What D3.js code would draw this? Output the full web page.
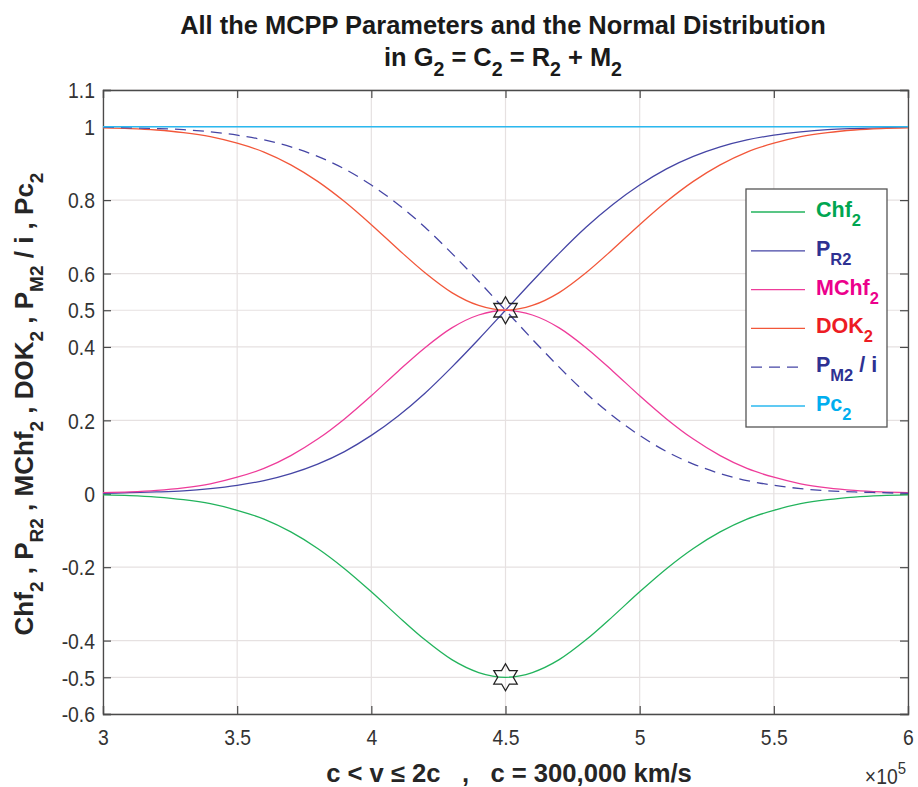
<!DOCTYPE html>
<html>
<head>
<meta charset="utf-8">
<script src="https://cdn.jsdelivr.net/npm/d3@7"></script>
<style>
    body { margin: 0; background: #fff; }
    text { font-family: "Liberation Sans", Arial, Helvetica, sans-serif; }
</style>
</head>
<body>
<div id="chart"></div>
<script>
// velocity v in units of 10^5 km/s
let xVals = [3.0, 3.1, 3.2, 3.3, 3.4, 3.5, 3.6, 3.7, 3.8, 3.9, 4.0, 4.1, 4.2, 4.3, 4.4, 4.5,
    4.6, 4.7, 4.8, 4.9, 5.0, 5.1, 5.2, 5.3, 5.4, 5.5, 5.6, 5.7, 5.8, 5.9, 6.0];

// series
let chf = [-0.003, -0.005, -0.009, -0.016, -0.027, -0.045, -0.069, -0.104, -0.149, -0.204, -0.267, -0.334, -0.398, -0.452, -0.487, -0.500,
    -0.487, -0.452, -0.398, -0.334, -0.267, -0.204, -0.149, -0.104, -0.069, -0.045, -0.027, -0.016, -0.009, -0.005, -0.003];
let pr = [0.001, 0.003, 0.005, 0.008, 0.014, 0.023, 0.036, 0.055, 0.081, 0.115, 0.159, 0.212, 0.274, 0.345, 0.421, 0.500,
    0.579, 0.655, 0.726, 0.788, 0.841, 0.885, 0.919, 0.945, 0.964, 0.977, 0.986, 0.992, 0.995, 0.997, 0.999];
let mchf = [0.003, 0.005, 0.009, 0.016, 0.027, 0.045, 0.069, 0.104, 0.149, 0.204, 0.267, 0.334, 0.398, 0.452, 0.487, 0.500,
    0.487, 0.452, 0.398, 0.334, 0.267, 0.204, 0.149, 0.104, 0.069, 0.045, 0.027, 0.016, 0.009, 0.005, 0.003];
let dok = [0.997, 0.995, 0.991, 0.984, 0.973, 0.955, 0.931, 0.896, 0.851, 0.796, 0.733, 0.666, 0.602, 0.548, 0.513, 0.500,
    0.513, 0.548, 0.602, 0.666, 0.733, 0.796, 0.851, 0.896, 0.931, 0.955, 0.973, 0.984, 0.991, 0.995, 0.997];
let pm = [0.999, 0.997, 0.995, 0.992, 0.986, 0.977, 0.964, 0.945, 0.919, 0.885, 0.841, 0.788, 0.726, 0.655, 0.579, 0.500,
    0.421, 0.345, 0.274, 0.212, 0.159, 0.115, 0.081, 0.055, 0.036, 0.023, 0.014, 0.008, 0.005, 0.003, 0.001];
let pc = [1, 1, 1, 1, 1, 1, 1, 1, 1, 1, 1, 1, 1, 1, 1, 1,
    1, 1, 1, 1, 1, 1, 1, 1, 1, 1, 1, 1, 1, 1, 1];

// star markers at the mean
let starX = [4.5, 4.5];
let starY = [0.5, -0.5];

// tick labels
let xTicks = [3, 3.5, 4, 4.5, 5, 5.5, 6];
let yTicks = [-0.6, -0.5, -0.4, -0.2, 0, 0.2, 0.4, 0.5, 0.6, 0.8, 1, 1.1];

// legend: name, subscript, tail
let legendNames = ["Chf", "P", "MChf", "DOK", "P", "Pc"];
let legendSubs = ["2", "R2", "2", "2", "M2", "2"];
let legendTails = ["", "", "", "", " / i", ""];

let svgWidth = 918;
let svgHeight = 787;

let margin = { top: 90, right: 10, bottom: 73, left: 103 };
let width = svgWidth - margin.left - margin.right;
let height = svgHeight - margin.top - margin.bottom;

let svg = d3.select('#chart')
    .append('svg')
    .attr('width', svgWidth)
    .attr('height', svgHeight);

let chartGroup = svg.append('g')
    .attr('transform', `translate(${margin.left}, ${margin.top})`);

let xScale = d3.scaleLinear().domain([3, 6]).range([0, width]);
let yScale = d3.scaleLinear().domain([-0.6, 1.1]).range([height, 0]);

// narrow look: squeeze arial horizontally
let squeeze = 0.88;

// grid
chartGroup.append('g')
    .selectAll('line')
    .data(xTicks)
    .enter()
    .append('line')
    .attr('x1', d => xScale(d)).attr('x2', d => xScale(d))
    .attr('y1', 0).attr('y2', height)
    .attr('stroke', '#e6e1e1').attr('stroke-width', 1.2);

chartGroup.append('g')
    .selectAll('line')
    .data(yTicks)
    .enter()
    .append('line')
    .attr('x1', 0).attr('x2', width)
    .attr('y1', d => yScale(d)).attr('y2', d => yScale(d))
    .attr('stroke', '#e6e1e1').attr('stroke-width', 1.2);

// axes, ticks inside like matlab, box on
let tickLen = 8;
let fmt = d => String(d);

let bottomAxis = chartGroup.append('g')
    .attr('transform', `translate(0,${height})`)
    .call(d3.axisBottom(xScale).tickValues(xTicks).tickSize(-tickLen).tickPadding(15).tickFormat(fmt));
let topAxis = chartGroup.append('g')
    .call(d3.axisTop(xScale).tickValues(xTicks).tickSize(-tickLen).tickFormat(''));
let leftAxis = chartGroup.append('g')
    .call(d3.axisLeft(yScale).tickValues(yTicks).tickSize(-tickLen).tickFormat(fmt));
let rightAxis = chartGroup.append('g')
    .attr('transform', `translate(${width},0)`)
    .call(d3.axisRight(yScale).tickValues(yTicks).tickSize(-tickLen).tickFormat(''));

[bottomAxis, topAxis, leftAxis, rightAxis].forEach(a => {
    a.select('.domain').attr('stroke', '#4a4a4a').attr('stroke-width', 1.3);
    a.selectAll('.tick line').attr('stroke', '#4a4a4a').attr('stroke-width', 1.2);
    a.selectAll('.tick text')
        .attr('font-family', '"Liberation Sans", Arial, sans-serif')
        .attr('font-size', 22)
        .attr('fill', '#333');
});
bottomAxis.selectAll('.tick text').attr('transform', `scale(${squeeze},1)`);
leftAxis.selectAll('.tick text')
    .attr('x', null)
    .attr('dy', '0.35em')
    .attr('transform', `translate(-8,0) scale(${squeeze},1)`);

// curves
let line = d3.line()
    .x((d, i) => xScale(xVals[i]))
    .y(d => yScale(d))
    .curve(d3.curveMonotoneX);

let series = [
    { vals: chf, color: '#22b35c', dash: null, w: 1.3 },
    { vals: pr, color: '#4545a5', dash: null, w: 1.3 },
    { vals: mchf, color: '#ee3c9a', dash: null, w: 1.3 },
    { vals: dok, color: '#f2573a', dash: null, w: 1.3 },
    { vals: pm, color: '#4545a5', dash: '11,7', w: 1.3 },
    { vals: pc, color: '#2bb8ef', dash: null, w: 1.6 }
];

chartGroup.selectAll('.curve')
    .data(series)
    .enter()
    .append('path')
    .attr('class', 'curve')
    .attr('d', d => line(d.vals))
    .attr('fill', 'none')
    .attr('stroke', d => d.color)
    .attr('stroke-width', d => d.w)
    .attr('stroke-dasharray', d => d.dash);

// hexagram markers
function hexagram(r) {
    let pts = [];
    for (let k = 0; k < 12; k++) {
        let a = -Math.PI / 2 + k * Math.PI / 6;
        let rr = k % 2 === 0 ? r : r / Math.sqrt(3);
        pts.push([rr * Math.cos(a), rr * Math.sin(a)]);
    }
    return 'M' + pts.map(p => p.join(',')).join('L') + 'Z';
}

chartGroup.selectAll('.star')
    .data(starX)
    .enter()
    .append('path')
    .attr('class', 'star')
    .attr('transform', (d, i) => `translate(${xScale(d)},${yScale(starY[i])})`)
    .attr('d', hexagram(13.5))
    .attr('fill', 'none')
    .attr('stroke', '#222')
    .attr('stroke-width', 1.3);

// legend
let legendColors = ['#00a651', '#2e3192', '#ec008c', '#ed1c24', '#2e3192', '#00aeef'];
let legend = svg.append('g').attr('transform', 'translate(746,189)');
legend.append('rect')
    .attr('width', 141).attr('height', 238)
    .attr('fill', '#fff')
    .attr('stroke', '#555').attr('stroke-width', 1.3);

legendNames.forEach((name, i) => {
    let y = 23 + i * 38.8;
    let s = series[i];
    legend.append('line')
        .attr('x1', 5).attr('x2', 59)
        .attr('y1', y).attr('y2', y)
        .attr('stroke', s.color)
        .attr('stroke-width', 1.3)
        .attr('stroke-dasharray', s.dash);
    let t = legend.append('text')
        .attr('x', 70).attr('y', y + 5)
        .attr('font-size', 21.5)
        .attr('font-weight', 'bold')
        .attr('fill', legendColors[i])
        .attr('xml:space', 'preserve');
    t.append('tspan').text(name);
    t.append('tspan').attr('dy', 9).attr('font-size', 16.5).text(legendSubs[i]);
    if (legendTails[i]) t.append('tspan').attr('dy', -9).text(legendTails[i]);
});

// text made of pieces, subscripts go down then back up
function piecewise(el, parts, subSize, drop) {
    parts.forEach(p => {
        el.append('tspan').attr('dy', p.sub ? drop : (p.back ? -drop : 0))
            .attr('font-size', p.sub ? subSize : null)
            .text(p.t);
    });
}

// title
let title1 = svg.append('text')
    .attr('text-anchor', 'middle')
    .attr('font-weight', 'bold')
    .attr('font-size', 26)
    .attr('fill', '#1a1a1a')
    .text('All the MCPP Parameters and the Normal Distribution');
let w1 = title1.node().getComputedTextLength();
let titleScale = 646 / w1;
title1.attr('transform', `translate(503,34) scale(${titleScale},1)`);

let title2 = svg.append('text')
    .attr('text-anchor', 'middle')
    .attr('font-weight', 'bold')
    .attr('font-size', 26)
    .attr('fill', '#1a1a1a')
    .attr('xml:space', 'preserve')
    .attr('transform', `translate(503,66) scale(${titleScale},1)`);
piecewise(title2, [
    { t: 'in G' }, { t: '2', sub: true }, { t: ' = C', back: true }, { t: '2', sub: true },
    { t: ' = R', back: true }, { t: '2', sub: true }, { t: ' + M', back: true }, { t: '2', sub: true }
], 20, 10);

// x label
let xlab = svg.append('text')
    .attr('text-anchor', 'middle')
    .attr('font-weight', 'bold')
    .attr('font-size', 25)
    .attr('fill', '#262626')
    .attr('xml:space', 'preserve')
    .text('c < v \u2264 2c   ,   c = 300,000 km/s');
let wx = xlab.node().getComputedTextLength();
xlab.attr('transform', `translate(509,782) scale(${366 / wx},1)`);

// exponent
let expo = svg.append('text')
    .attr('text-anchor', 'end')
    .attr('font-size', 22)
    .attr('fill', '#333')
    .attr('transform', `translate(906,784) scale(${squeeze},1)`);
expo.append('tspan').text('\u00d710');
expo.append('tspan').attr('dy', -10).attr('font-size', 17).text('5');

// y label
let ylab = svg.append('text')
    .attr('text-anchor', 'middle')
    .attr('transform', 'translate(33,404) rotate(-90)')
    .attr('font-weight', 'bold')
    .attr('font-size', 26)
    .attr('fill', '#262626')
    .attr('xml:space', 'preserve');
piecewise(ylab, [
    { t: 'Chf' }, { t: '2', sub: true }, { t: ' , P', back: true }, { t: 'R2', sub: true },
    { t: ' , MChf', back: true }, { t: '2', sub: true }, { t: ' , DOK', back: true }, { t: '2', sub: true },
    { t: ' , P', back: true }, { t: 'M2', sub: true }, { t: ' / i , Pc', back: true }, { t: '2', sub: true }
], 19, 10);
</script>
</body>
</html>
